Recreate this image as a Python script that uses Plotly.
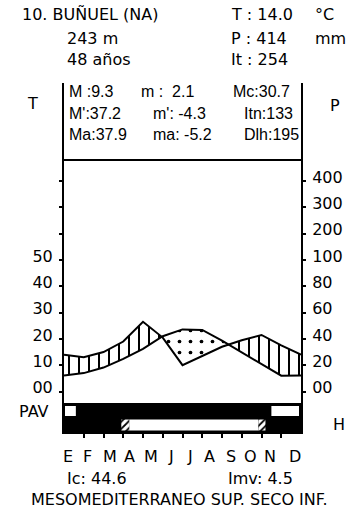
import numpy as np
import plotly.graph_objects as go

# ---------------- data ----------------
months = ["E", "F", "M", "A", "M", "J", "J", "A", "S", "O", "N", "D"]
temp = [6.1, 7.0, 9.1, 12.4, 16.2, 21.0, 23.6, 23.4, 19.3, 14.9, 10.2, 6.0]   # °C
prec = [28, 26, 30, 38, 53, 41, 20, 27, 34, 39, 43, 35]                      # mm
t_ticks = [0, 10, 20, 30, 40, 50, 60, 70, 80]
t_ticktext = ["00", "10", "20", "30", "40", "50", "", "", ""]
p_ticktext = ["00", "20", "40", "60", "80", "100", "200", "300", "400"]
# periods (month units, 0 = start of January)
pav_inactive = [(0.05, 0.6), (10.5, 11.9)]      # top row, white
frost_free = [(3.3, 9.85)]                       # bottom row, white
frost_probable = [(2.9, 3.3), (9.85, 10.2)]      # bottom row, hatched

header_left = ["10. BUÑUEL (NA)", "243 m", "48 años"]
header_right = ["T : 14.0", "P : 414", "It : 254"]
header_units = ["°C", "mm", ""]
box_rows = [["M :9.3", "m :  2.1", "Mc:30.7"],
            ["M':37.2", "m': -4.3", "Itn:133"],
            ["Ma:37.9", "ma: -5.2", "Dlh:195"]]
indices = ["Ic: 44.6", "Imv: 4.5"]
bioclimate = "MESOMEDITERRANEO SUP. SECO INF."

# ---------------- geometry helpers ----------------
W, H = 355, 522
L, R, T, B = 64, 303, 83, 432
Y0, Y1 = -15.4, 117.3
FONT = "DejaVu Sans"
BOXFONT = "Liberation Sans"

def px(xp):
    return (xp - L) / (R - L)

def py(yp):
    return (B - yp) / (B - T)

def yval(yp):
    return Y1 - (yp - T) / (B - T) * (Y1 - Y0)

# ---------------- curves with crossings ----------------
x = np.arange(13, dtype=float)
t = np.array(temp + temp[:1], dtype=float)
p = np.array(prec + prec[:1], dtype=float) / 2.0   # 10 °C = 20 mm

xs, ts, ps = [], [], []
for i in range(12):
    xs.append(x[i]); ts.append(t[i]); ps.append(p[i])
    d0, d1 = p[i] - t[i], p[i + 1] - t[i + 1]
    if d0 * d1 < 0:
        f = d0 / (d0 - d1)
        yc = t[i] + f * (t[i + 1] - t[i])
        xs.append(x[i] + f); ts.append(yc); ps.append(yc)
xs.append(x[12]); ts.append(t[12]); ps.append(p[12])
xs, ts, ps = np.array(xs), np.array(ts), np.array(ps)

fig = go.Figure()

# humid (vertical hatch)
fig.add_trace(go.Scatter(x=xs, y=ts, mode="lines", line=dict(width=0), hoverinfo="skip", showlegend=False))
fig.add_trace(go.Scatter(x=xs, y=np.maximum(ps, ts), mode="lines", line=dict(width=0),
                         fill="tonexty", fillcolor="white",
                         fillpattern=dict(shape="|", size=10, solidity=0.2, fgcolor="black",
                                          bgcolor="white", fgopacity=1),
                         hoverinfo="skip", showlegend=False))
# arid (dots)
fig.add_trace(go.Scatter(x=xs, y=ts, mode="lines", line=dict(width=0), hoverinfo="skip", showlegend=False))
fig.add_trace(go.Scatter(x=xs, y=np.minimum(ps, ts), mode="lines", line=dict(width=0),
                         fill="tonexty", fillcolor="white",
                         fillpattern=dict(shape=".", size=11, solidity=0.09, fgcolor="black",
                                          bgcolor="white", fgopacity=1),
                         hoverinfo="skip", showlegend=False))
# lines
fig.add_trace(go.Scatter(x=x, y=p, mode="lines", line=dict(color="black", width=2), yaxis="y2",
                         showlegend=False, name="P"))
fig.add_trace(go.Scatter(x=x, y=t, mode="lines", line=dict(color="black", width=2),
                         showlegend=False, name="T"))

# ---------------- PAV / frost bar ----------------
bar_top = yval(403)
shapes = [dict(type="rect", xref="x", yref="y", x0=0, x1=12, y0=Y0, y1=bar_top,
               fillcolor="black", line=dict(width=0), layer="below")]
for a, b in pav_inactive:
    shapes.append(dict(type="rect", xref="x", yref="y", x0=a, x1=b, y0=yval(416), y1=yval(406),
                       fillcolor="white", line=dict(width=0), layer="below"))
for a, b in frost_free:
    shapes.append(dict(type="rect", xref="x", yref="y", x0=a, x1=b, y0=yval(430.5), y1=yval(419.5),
                       fillcolor="white", line=dict(width=0), layer="below"))
for a, b in frost_probable:
    y_lo, y_hi = yval(430.5), yval(419.5)
    fig.add_trace(go.Scatter(x=[a, b, b, a, a], y=[y_lo, y_lo, y_hi, y_hi, y_lo], mode="lines",
                             line=dict(width=0), fill="toself", fillcolor="white",
                             fillpattern=dict(shape="/", size=5, solidity=0.35, fgcolor="black",
                                              bgcolor="white", fgopacity=1),
                             hoverinfo="skip", showlegend=False))
# header divider line
shapes.append(dict(type="line", xref="x", yref="y", x0=0, x1=12, y0=yval(160), y1=yval(160),
                   line=dict(color="black", width=2)))

# ---------------- annotations ----------------
ann = []

def text(s, xp, yp, size=16, anchor="left", family=FONT):
    ann.append(dict(text=s, x=px(xp), y=py(yp), xref="paper", yref="paper", showarrow=False,
                    xanchor=anchor, yanchor="middle", font=dict(family=family, size=size, color="black")))

for s, yy in zip(header_left, [15, 38, 60]):
    text(s, 20 if s.startswith("10.") else 65, yy)
for s, u, yy in zip(header_right, header_units, [15, 38, 60]):
    text(s, 230, yy)
    if u:
        text(u, 315, yy)
text("T", 32, 103, anchor="center")
text("P", 337, 105, anchor="center")
seg_x = [[67, 140, 232], [67, 152, 243], [67, 152, 243]]
for row, xr, yy in zip(box_rows, seg_x, [92, 113, 134]):
    for s, xx in zip(row, xr):
        text(s, xx, yy, size=16, family=BOXFONT)
month_px = [68, 88, 110, 130, 152, 172, 191, 211, 232, 252, 272, 297]
for m, xx in zip(months, month_px):
    text(m, xx, 456, anchor="center")
text(indices[0], 65, 478)
text(indices[1], 227, 478)
text(bioclimate, 180, 499, anchor="center")
text("PAV", 17, 411)
text("H", 333, 424)

axis_common = dict(range=[Y0, Y1], showgrid=False, zeroline=False, showline=True,
                   linecolor="black", linewidth=2, ticks="outside", ticklen=3, tickwidth=1.5,
                   tickcolor="black", tickvals=t_ticks, tickfont=dict(family=FONT, size=16, color="black"),
                   fixedrange=True)

fig.update_layout(
    width=W, height=H,
    margin=dict(l=L, r=W - R, t=T, b=H - B, pad=0),
    paper_bgcolor="white", plot_bgcolor="white",
    showlegend=False,
    xaxis=dict(range=[0, 12], showgrid=False, zeroline=False, showline=True, linecolor="black",
               linewidth=2, ticks="outside", tickvals=list(range(1, 12)), ticklen=4, tickwidth=1.5,
               tickcolor="black", showticklabels=False, fixedrange=True),
    yaxis=dict(**axis_common, ticktext=t_ticktext, side="left", ticklabelshift=-4, ticklabelstandoff=3),
    yaxis2=dict(**axis_common, ticktext=p_ticktext, side="right", overlaying="y", ticklabelshift=-4,
                ticklabelstandoff=3),
    shapes=shapes,
    annotations=ann,
)

fig.write_html("out.html", config={"displayModeBar": False, "responsive": False},
               post_script="document.body.style.margin='0';")
